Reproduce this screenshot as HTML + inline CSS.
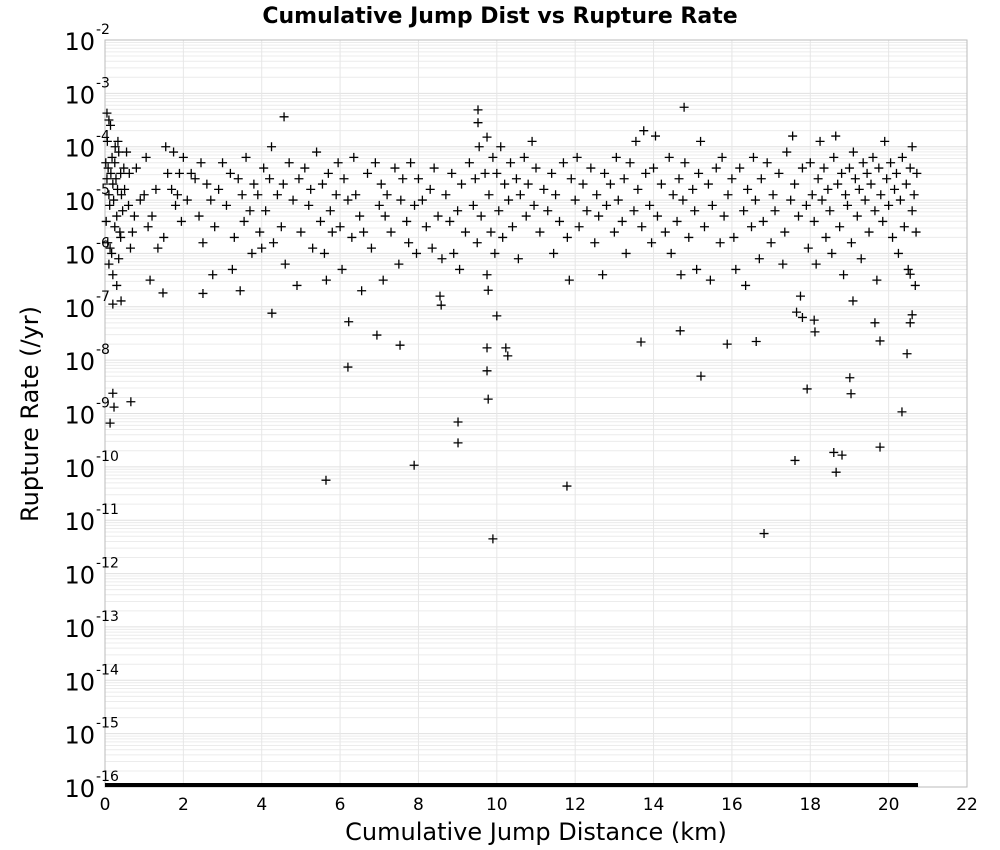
<!DOCTYPE html>
<html><head><meta charset="utf-8"><style>
body{margin:0;background:#fff;}
svg{display:block;font-family:"DejaVu Sans","Liberation Sans",sans-serif;}
</style></head><body>
<svg id="chart" width="1000" height="850" viewBox="0 0 1000 850" xmlns="http://www.w3.org/2000/svg">
<text x="500" y="23" text-anchor="middle" font-size="22" font-weight="bold">Cumulative Jump Dist vs Rupture Rate</text>
<g id="grid"></g>
<rect x="105" y="40" width="862" height="747" fill="none" stroke="#bbb" stroke-width="1"/>
<g id="marks"></g>
<g id="xticks"></g>
<g id="yticks"></g>
<text x="536" y="840" text-anchor="middle" font-size="24">Cumulative Jump Distance (km)</text>
<text transform="translate(38,414) rotate(-90)" text-anchor="middle" font-size="24">Rupture Rate (/yr)</text>
</svg>
<script>
const xTicks=[0,2,4,6,8,10,12,14,16,18,20,22];
const yExpTicks=[-2,-3,-4,-5,-6,-7,-8,-9,-10,-11,-12,-13,-14,-15,-16];
const zeroRateMaxDist=20.75;
const outlierPoints=[[0.05,-3.37],[0.1,-3.5],[4.57,-3.44],[9.52,-3.31],[9.52,-3.55],[14.78,-3.26],[9.75,-3.82],
[0.13,-9.18],[0.2,-8.62],[0.23,-8.88],[0.66,-8.78],[0.2,-6.95],[0.41,-6.89],[1.48,-6.74],[1.15,-6.5],[4.26,-7.12],
[5.64,-10.25],[6.2,-8.13],[6.22,-7.28],[6.94,-7.53],[7.53,-7.72],[7.89,-9.97],[9.01,-9.16],[9.01,-9.55],[9.78,-8.73],
[9.75,-7.77],[9.75,-8.2],[9.9,-11.35],[10.23,-7.77],[10.28,-7.92],[10.0,-7.17],[9.78,-6.69],[11.79,-10.36],[13.68,-7.66],
[14.68,-7.45],[15.21,-8.3],[15.88,-7.7],[16.62,-7.65],[16.82,-11.25],[17.61,-9.88],[17.92,-8.54],[18.12,-7.47],[18.1,-7.25],
[18.6,-9.73],[18.66,-10.1],[18.81,-9.78],[19.01,-8.33],[19.04,-8.63],[19.09,-6.89],[19.65,-7.3],[19.78,-7.64],[19.78,-9.63],
[20.34,-8.97],[20.47,-7.88],[20.55,-7.3],[20.6,-7.15],[20.55,-6.39],[8.55,-6.8],[8.58,-6.97],[17.65,-7.1],[17.8,-7.2],[2.5,-6.75],[3.45,-6.7]];
const bandPoints=[[0.02,-4.3],[0.05,-4.6],[0.08,-4.4],[0.1,-4.9],[0.12,-5.1],[0.15,-4.5],[0.18,-4.2],[0.2,-4.7],[0.22,-5.0],[0.25,-4.3],[0.28,-4.6],[0.3,-5.3],[0.32,-4.8],[0.35,-4.1],[0.38,-5.6],[0.4,-4.5],[0.42,-4.9],[0.45,-5.2],[0.48,-4.4],[0.03,-5.4],[0.07,-5.8],[0.1,-6.2],[0.13,-5.9],[0.17,-6.0],[0.2,-6.4],[0.25,-5.5],[0.3,-6.6],[0.35,-6.1],[0.4,-5.7],[0.14,-3.6],[0.06,-3.9],[0.26,-4.0],[0.33,-3.9],[0.5,-4.8],[0.55,-4.1],[0.6,-5.1],[0.62,-4.5],[0.65,-5.9],[0.7,-5.6],[0.75,-5.3],[0.8,-4.4],[0.9,-5.0],
[1.0,-4.9],[1.05,-4.2],[1.1,-5.5],[1.2,-5.3],[1.3,-4.8],[1.35,-5.9],[1.5,-5.7],[1.55,-4.0],[1.6,-4.5],[1.7,-4.8],[1.75,-4.1],[1.8,-5.1],[1.85,-4.9],[1.9,-4.5],[1.95,-5.4],[2.0,-4.2],[2.1,-5.0],
[2.2,-4.5],[2.3,-4.6],[2.4,-5.3],[2.45,-4.3],[2.5,-5.8],[2.6,-4.7],[2.7,-5.0],[2.75,-6.4],[2.8,-5.5],[2.9,-4.8],[3.0,-4.3],[3.1,-5.1],[3.2,-4.5],[3.25,-6.3],[3.3,-5.7],[3.4,-4.6],[3.5,-4.9],[3.55,-5.4],[3.6,-4.2],[3.7,-5.2],[3.75,-6.0],[3.8,-4.7],[3.9,-4.9],[3.95,-5.6],[4.0,-5.9],[4.05,-4.4],
[4.1,-5.2],[4.2,-4.6],[4.25,-4.0],[4.3,-5.8],[4.4,-4.9],[4.5,-5.5],[4.55,-4.7],[4.6,-6.2],[4.7,-4.3],[4.8,-5.0],[4.9,-6.6],[4.95,-4.6],[5.0,-5.6],[5.1,-4.4],[5.2,-5.1],[5.25,-4.8],[5.3,-5.9],[5.4,-4.1],[5.5,-5.4],[5.55,-4.7],[5.6,-6.0],[5.65,-6.5],[5.7,-4.5],[5.75,-5.2],[5.8,-5.6],[5.9,-4.9],[5.95,-4.3],
[6.0,-5.5],[6.05,-6.3],[6.1,-4.6],[6.2,-5.0],[6.3,-5.7],[6.35,-4.2],[6.4,-4.9],[6.5,-5.3],[6.55,-6.7],[6.6,-5.6],[6.7,-4.5],[6.8,-5.9],[6.9,-4.3],[7.0,-5.1],[7.05,-4.7],[7.1,-6.5],[7.15,-5.3],[7.2,-4.9],[7.3,-5.6],[7.4,-4.4],[7.5,-6.2],[7.55,-5.0],[7.6,-4.6],[7.7,-5.4],[7.75,-5.8],[7.8,-4.3],[7.9,-5.1],[7.95,-6.0],
[8.0,-4.6],[8.1,-5.0],[8.2,-5.5],[8.3,-4.8],[8.35,-5.9],[8.4,-4.4],[8.5,-5.3],[8.6,-6.1],[8.7,-4.9],[8.8,-5.4],[8.85,-4.5],[8.9,-6.0],[9.0,-5.2],[9.05,-6.3],[9.1,-4.7],[9.2,-5.6],[9.3,-4.3],[9.4,-5.1],[9.45,-4.6],[9.5,-5.8],[9.55,-4.0],[9.6,-5.3],[9.7,-4.5],[9.75,-6.4],[9.8,-4.9],[9.85,-5.6],[9.9,-4.2],[9.95,-6.0],
[10.0,-4.5],[10.05,-5.2],[10.1,-4.0],[10.15,-5.7],[10.2,-4.7],[10.3,-5.0],[10.35,-4.3],[10.4,-5.5],[10.5,-4.6],[10.55,-6.1],[10.6,-4.9],[10.7,-4.2],[10.75,-5.3],[10.8,-4.7],[10.9,-3.9],[10.95,-5.1],[11.0,-4.4],[11.1,-5.6],[11.2,-4.8],[11.3,-5.2],[11.4,-4.5],[11.45,-6.0],[11.5,-4.9],[11.6,-5.4],[11.7,-4.3],[11.8,-5.7],[11.85,-6.5],[11.9,-4.6],
[12.0,-5.0],[12.05,-4.2],[12.1,-5.5],[12.2,-4.7],[12.3,-5.2],[12.4,-4.4],[12.5,-5.8],[12.55,-4.9],[12.6,-5.3],[12.7,-6.4],[12.75,-4.5],[12.8,-5.1],[12.9,-4.7],[13.0,-5.6],[13.05,-4.2],[13.1,-5.0],[13.2,-5.4],[13.25,-4.6],[13.3,-6.0],[13.4,-4.3],[13.5,-5.2],[13.55,-3.9],[13.6,-4.8],[13.7,-5.5],[13.75,-3.7],[13.8,-4.5],[13.9,-5.1],[13.95,-5.8],
[14.0,-4.4],[14.05,-3.8],[14.1,-5.3],[14.2,-4.7],[14.3,-5.6],[14.4,-4.2],[14.45,-6.0],[14.5,-4.9],[14.6,-5.4],[14.65,-4.6],[14.7,-6.4],[14.75,-5.0],[14.8,-4.3],[14.9,-5.7],[15.0,-4.8],[15.05,-5.2],[15.1,-6.3],[15.15,-4.5],[15.2,-3.9],[15.3,-5.5],[15.4,-4.7],[15.45,-6.5],[15.5,-5.1],[15.6,-4.4],[15.7,-5.8],[15.75,-4.2],[15.8,-5.3],[15.9,-4.9],
[16.0,-4.6],[16.05,-5.7],[16.1,-6.3],[16.2,-4.4],[16.3,-5.2],[16.35,-6.6],[16.4,-4.8],[16.5,-5.5],[16.55,-4.2],[16.6,-5.0],[16.7,-6.1],[16.75,-4.6],[16.8,-5.4],[16.9,-4.3],[17.0,-5.8],[17.05,-4.9],[17.1,-5.2],[17.2,-4.5],[17.3,-6.2],[17.35,-5.6],[17.4,-4.1],[17.5,-5.0],[17.55,-3.8],[17.6,-4.7],[17.7,-5.3],[17.75,-6.8],[17.8,-4.4],[17.9,-5.1],[17.95,-5.9],
[18.0,-4.3],[18.05,-4.9],[18.1,-5.4],[18.15,-6.2],[18.2,-4.6],[18.25,-3.9],[18.3,-5.0],[18.35,-4.4],[18.4,-5.7],[18.45,-4.8],[18.5,-5.2],[18.55,-6.0],[18.6,-4.2],[18.65,-3.8],[18.7,-4.7],[18.75,-5.5],[18.8,-4.5],[18.85,-6.4],[18.9,-4.9],[18.95,-5.1],[19.0,-4.4],[19.05,-5.8],[19.1,-4.1],[19.15,-4.6],[19.2,-5.3],[19.25,-4.8],[19.3,-6.1],[19.35,-4.3],[19.4,-5.0],[19.45,-4.5],[19.5,-5.6],[19.55,-4.7],[19.6,-4.2],[19.65,-5.2],[19.7,-6.5],[19.75,-4.4],[19.8,-4.9],[19.85,-5.4],[19.9,-3.9],[19.95,-4.6],
[20.0,-5.1],[20.05,-4.3],[20.1,-5.7],[20.15,-4.8],[20.2,-4.5],[20.25,-6.0],[20.3,-5.0],[20.35,-4.2],[20.4,-5.5],[20.45,-4.7],[20.5,-6.3],[20.55,-4.4],[20.6,-5.2],[20.65,-4.9],[20.7,-5.6],[20.72,-4.5],[20.68,-6.6],[20.6,-4.0]];

const NS="http://www.w3.org/2000/svg";
const L=105,R=967,T=40,B=787;
const xScale=v=>L+(v-0)/(22-0)*(R-L);
const yScale=e=>T+(-2-e)/14*(B-T);
function mk(tag,attrs,parent){const el=document.createElementNS(NS,tag);for(const k in attrs)el.setAttribute(k,attrs[k]);parent.appendChild(el);return el;}
const grid=document.getElementById('grid'),marks=document.getElementById('marks'),xt=document.getElementById('xticks'),yt=document.getElementById('yticks');
for(let d=-16;d<-2;d++){for(let m=2;m<=9;m++){const y=yScale(d+Math.log10(m));
const g=mk('line',{x1:L,x2:R,y1:y,y2:y,stroke:'#ececec','stroke-width':1},grid);

}}
yExpTicks.forEach(e=>{const y=yScale(e);
const g=mk('line',{x1:L,x2:R,y1:y,y2:y,stroke:'#e0e0e0','stroke-width':1},grid);


const t=mk('text',{x:95,y:y+10,'text-anchor':'end','font-size':24},yt);


t.textContent='10';
const s=mk('text',{x:96,y:y-6,'font-size':14},yt);


s.textContent=String(e);});
xTicks.forEach(v=>{const x=xScale(v);
if(v>0&&v<22){const g=mk('line',{x1:x,x2:x,y1:T,y2:B,stroke:'#e6e6e6','stroke-width':1},grid);

}
const t=mk('text',{x:x,y:810,'text-anchor':'middle','font-size':17},xt);


t.textContent=String(v);});
const zl=mk('rect',{x:L,y:yScale(-16)-4,width:xScale(zeroRateMaxDist)-L,height:4,fill:'#000'},marks);


function plus(p){const x=xScale(p[0]),y=yScale(p[1]);
const el=mk('path',{d:`M${x-4.5},${y}H${x+4.5}M${x},${y-4.5}V${y+4.5}`,stroke:'#000','stroke-width':1.3,fill:'none'},marks);

}
bandPoints.forEach(plus);
outlierPoints.forEach(plus);
</script>
</body></html>
